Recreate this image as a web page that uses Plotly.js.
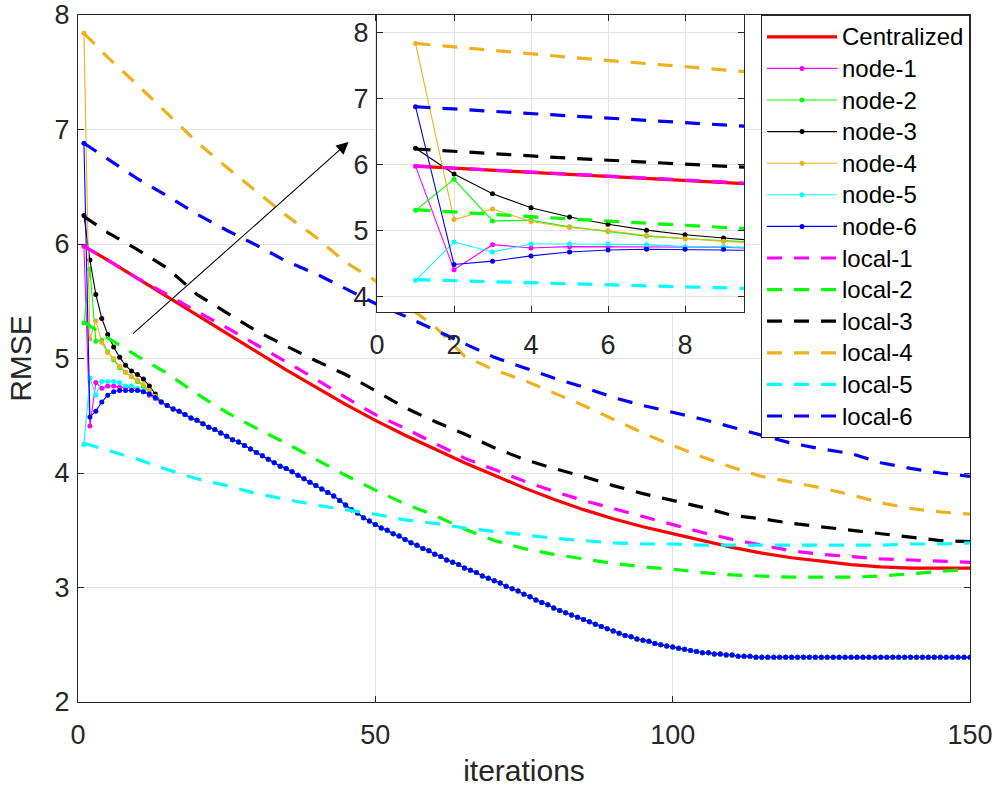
<!DOCTYPE html>
<html>
<head>
<meta charset="utf-8">
<script src="https://cdn.plot.ly/plotly-3.0.1.min.js"></script>
<style>html,body{margin:0;padding:0;background:#fff;}#chart{width:1002px;height:794px;}</style>
</head>
<body>
<div id="chart"></div>
<script>
// ---------- DATA ----------
// per-iteration x values for the distributed (node) estimates
const nodeIterations = Array.from({length: 150}, (_, i) => i + 1);

// node estimates, iterations 1..13 (individual transients)
const node1Head = [5.98, 4.41, 4.79, 4.74, 4.76, 4.76, 4.75, 4.75, 4.75, 4.73, 4.71, 4.68, 4.65];
const node2Head = [5.31, 5.78, 5.15, 5.16, 5.06, 4.99, 4.92, 4.88, 4.84, 4.80, 4.76, 4.71, 4.67];
const node3Head = [6.25, 5.86, 5.56, 5.35, 5.21, 5.10, 5.01, 4.94, 4.89, 4.86, 4.82, 4.76, 4.69];
const node4Head = [7.84, 5.17, 5.33, 5.14, 5.05, 5.00, 4.93, 4.88, 4.84, 4.81, 4.77, 4.72, 4.67];
const node5Head = [4.25, 4.83, 4.68, 4.80, 4.80, 4.80, 4.79, 4.76, 4.76, 4.74, 4.72, 4.69, 4.66];
const node6Head = [6.88, 4.49, 4.54, 4.62, 4.68, 4.71, 4.72, 4.72, 4.72, 4.72, 4.71, 4.69, 4.66];

// consensus part shared by all nodes, iterations 14..150
const consensusTail = [
  4.62, 4.59, 4.56, 4.54, 4.51, 4.48,
  4.46, 4.43, 4.40, 4.38, 4.35, 4.32, 4.29, 4.27, 4.24, 4.21,
  4.18, 4.15, 4.12, 4.09, 4.06, 4.04, 4.01, 3.98, 3.95, 3.92,
  3.89, 3.86, 3.83, 3.80, 3.76, 3.72, 3.68, 3.65, 3.61, 3.58,
  3.55, 3.52, 3.50, 3.47, 3.45, 3.42, 3.39, 3.37, 3.34, 3.32,
  3.29, 3.27, 3.24, 3.22, 3.20, 3.17, 3.15, 3.13, 3.10, 3.08,
  3.06, 3.04, 3.01, 2.99, 2.97, 2.94, 2.92, 2.89, 2.87, 2.85,
  2.82, 2.80, 2.78, 2.76, 2.74, 2.72, 2.70, 2.68, 2.66, 2.64,
  2.62, 2.60, 2.58, 2.57, 2.55, 2.54, 2.53, 2.51, 2.50, 2.49,
  2.48, 2.47, 2.46, 2.45, 2.44, 2.43, 2.43, 2.42, 2.42, 2.41,
  2.41, 2.40, 2.40, 2.40, 2.39, 2.39, 2.39, 2.39, 2.39, 2.39,
  2.39, 2.39, 2.39, 2.39, 2.39, 2.39, 2.39, 2.39, 2.39, 2.39,
  2.39, 2.39, 2.39, 2.39, 2.39, 2.39, 2.39, 2.39, 2.39, 2.39,
  2.39, 2.39, 2.39, 2.39, 2.39, 2.39, 2.39, 2.39, 2.39, 2.39,
  2.39
];

// sampled iterations for the smooth curves (centralized + local)
const sampledIterations = [1, 5, 10, 15, 20, 25, 30, 35, 40, 45, 50, 55, 60, 65, 70, 75,
  80, 85, 90, 95, 100, 105, 110, 115, 120, 125, 130, 135, 140, 145, 150];

const centralized = [5.98, 5.86, 5.70, 5.54, 5.38, 5.22, 5.06, 4.90, 4.75, 4.60, 4.46, 4.33, 4.21, 4.09, 3.98, 3.87,
  3.77, 3.68, 3.60, 3.53, 3.47, 3.41, 3.35, 3.30, 3.26, 3.23, 3.20, 3.18, 3.17, 3.17, 3.17];
const local1 = [5.98, 5.86, 5.70, 5.56, 5.41, 5.27, 5.12, 4.97, 4.82, 4.66, 4.51, 4.39, 4.26, 4.13, 4.03, 3.93,
  3.84, 3.76, 3.69, 3.62, 3.55, 3.48, 3.42, 3.37, 3.32, 3.29, 3.27, 3.25, 3.24, 3.23, 3.22];
const local2 = [5.32, 5.18, 5.02, 4.87, 4.69, 4.53, 4.39, 4.26, 4.12, 3.98, 3.85, 3.73, 3.63, 3.51, 3.41, 3.34,
  3.29, 3.25, 3.21, 3.18, 3.16, 3.13, 3.11, 3.10, 3.09, 3.09, 3.09, 3.10, 3.12, 3.14, 3.16];
const local3 = [6.24, 6.10, 5.95, 5.79, 5.56, 5.40, 5.24, 5.11, 4.98, 4.86, 4.72, 4.57, 4.45, 4.34, 4.22, 4.12,
  4.04, 3.97, 3.89, 3.82, 3.76, 3.70, 3.63, 3.60, 3.56, 3.53, 3.50, 3.47, 3.44, 3.41, 3.40];
const local4 = [7.84, 7.63, 7.39, 7.14, 6.89, 6.67, 6.46, 6.25, 6.06, 5.84, 5.68, 5.47, 5.28, 5.02, 4.90, 4.81,
  4.70, 4.59, 4.47, 4.35, 4.24, 4.14, 4.05, 3.97, 3.92, 3.87, 3.81, 3.74, 3.69, 3.66, 3.64];
const local5 = [4.26, 4.20, 4.12, 4.03, 3.95, 3.89, 3.82, 3.77, 3.72, 3.68, 3.64, 3.59, 3.56, 3.52, 3.49, 3.46,
  3.43, 3.41, 3.39, 3.38, 3.38, 3.37, 3.37, 3.37, 3.37, 3.37, 3.37, 3.37, 3.38, 3.38, 3.39];
const local6 = [6.88, 6.74, 6.57, 6.42, 6.26, 6.12, 5.99, 5.85, 5.74, 5.61, 5.48, 5.37, 5.25, 5.13, 5.01, 4.92,
  4.83, 4.75, 4.66, 4.59, 4.53, 4.47, 4.40, 4.33, 4.26, 4.21, 4.17, 4.09, 4.04, 4.00, 3.97];

const centralName = 'Centralized';
const nodeNames = ['node-1', 'node-2', 'node-3', 'node-4', 'node-5', 'node-6'];
const localNames = ['local-1', 'local-2', 'local-3', 'local-4', 'local-5', 'local-6'];
const xTickVals = [0, 50, 100, 150];
const insetXTickVals = [0, 2, 4, 6, 8];

// ---------- STYLE ----------
const seriesColors = ['#ff00ff', '#00ff00', '#000000', '#EDB120', '#00ffff', '#0000ff'];
const FONT = '"Liberation Sans", Arial, Helvetica, sans-serif';
const AXC = '#262626';
const GRID = '#e3e3e3';
const big = s => '<span style="font-size:24px">' + s + '</span>';

const nodeSeries = [node1Head, node2Head, node3Head, node4Head, node5Head, node6Head].map(h => h.concat(consensusTail));
const localSeries = [local1, local2, local3, local4, local5, local6];

function buildTraces(xa, ya, legend) {
  const tr = [];
  tr.push({x: sampledIterations, y: centralized, name: big(centralName), type: 'scatter', mode: 'lines',
    line: {color: '#ff0000', width: 3.2}, xaxis: xa, yaxis: ya, showlegend: legend, legendgroup: 'c'});
  nodeSeries.forEach((s, i) => tr.push({x: nodeIterations, y: s, name: big(nodeNames[i]), type: 'scatter',
    mode: 'lines+markers', line: {color: seriesColors[i], width: 1.1},
    marker: {color: seriesColors[i], size: 5}, xaxis: xa, yaxis: ya, showlegend: legend, legendgroup: 'n' + i}));
  localSeries.forEach((s, i) => tr.push({x: sampledIterations, y: s, name: big(localNames[i]), type: 'scatter',
    mode: 'lines', line: {color: seriesColors[i], width: 3.2, dash: '15px,12px'},
    xaxis: xa, yaxis: ya, showlegend: legend, legendgroup: 'l' + i}));
  return tr;
}

const traces = buildTraces('x', 'y', true).concat(buildTraces('x2', 'y2', false));

const axisCommon = {
  ticks: 'inside', ticklen: 6, tickwidth: 1, tickcolor: AXC,
  showline: true, mirror: 'ticks', linecolor: AXC, linewidth: 1,
  showgrid: true, gridcolor: GRID, gridwidth: 1, zeroline: false,
  tickfont: {family: FONT, size: 27, color: AXC}
};

const layout = {
  width: 1002, height: 794,
  margin: {l: 78, r: 32, t: 15, b: 92},
  paper_bgcolor: '#ffffff', plot_bgcolor: '#ffffff',
  font: {family: FONT, color: AXC, size: 26},
  showlegend: true,
  xaxis: Object.assign({}, axisCommon, {
    range: [0, 150], tickvals: xTickVals, domain: [0, 1], anchor: 'y', ticklabelstandoff: 9,
    title: {text: 'iterations', font: {family: FONT, size: 30, color: AXC}, standoff: 10}
  }),
  yaxis: Object.assign({}, axisCommon, {
    range: [2, 8], dtick: 1, tick0: 2, domain: [0, 1], anchor: 'x', ticklabelstandoff: 2,
    title: {text: 'RMSE', font: {family: FONT, size: 30, color: AXC}, standoff: 14}
  }),
  xaxis2: Object.assign({}, axisCommon, {
    range: [0, 9.53], tickvals: insetXTickVals, domain: [0.3352, 0.7466], anchor: 'y2', ticklabelstandoff: 9
  }),
  yaxis2: Object.assign({}, axisCommon, {
    range: [3.77, 8.27], dtick: 1, tick0: 4, domain: [0.5677, 1], anchor: 'x2', ticklabelstandoff: 2
  }),
  legend: {
    x: 1, xanchor: 'right', y: 1, yanchor: 'top',
    bgcolor: '#ffffff', bordercolor: AXC, borderwidth: 1,
    font: {family: FONT, size: 22, color: '#000000'},
    itemwidth: 70, tracegroupgap: 0, traceorder: 'normal'
  },
  shapes: [{
    type: 'rect', xref: 'x2', yref: 'y2', x0: -5, x1: 20, y0: 0, y1: 12,
    fillcolor: '#ffffff', line: {width: 0}, layer: 'below'
  }],
  annotations: [{
    xref: 'x', yref: 'y', axref: 'x', ayref: 'y',
    x: 45.5, y: 6.89, ax: 9.0, ay: 5.205,
    text: '', showarrow: true, arrowhead: 2, arrowsize: 2.2, arrowwidth: 1.1, arrowcolor: '#000000'
  }]
};

Plotly.newPlot('chart', traces, layout, {displayModeBar: false, staticPlot: true});
</script>
</body>
</html>
